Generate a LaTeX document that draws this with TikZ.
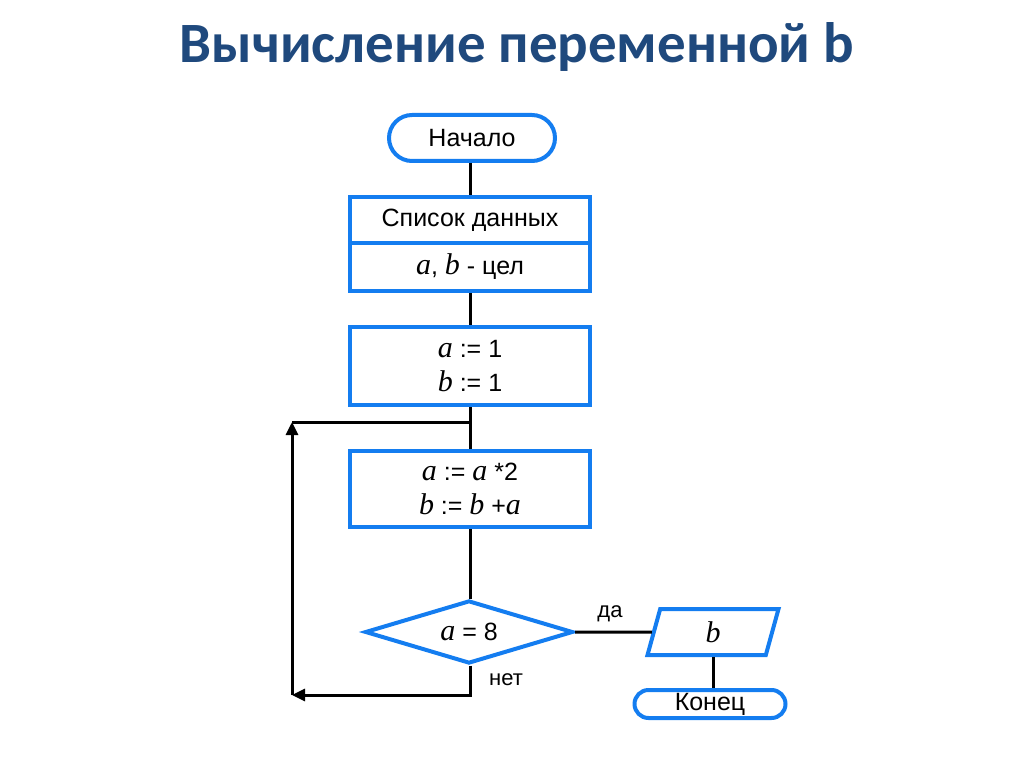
\documentclass[tikz,border=0pt]{standalone}
\usepackage{fontspec}
\setmainfont{Liberation Sans}
\newfontfamily\titlefont{Carlito}
\newfontfamily\serifit{Liberation Serif}
\usetikzlibrary{arrows.meta,shapes.geometric,shapes.misc}
\definecolor{boxblue}{RGB}{20,125,240}
\definecolor{titleblue}{RGB}{31,73,125}
\newcommand{\vr}[1]{{\serifit\itshape\fontsize{30}{34}\selectfont #1}}
\tikzset{
	term/.style={draw=boxblue, line width=4pt, rounded rectangle, inner sep=0pt},
	blockbox/.style={draw=boxblue, line width=4pt, rectangle, minimum width=240pt, inner sep=0pt, align=center},
	cond/.style={draw=boxblue, line width=4pt, diamond, minimum width=208pt, minimum height=63pt, inner sep=0pt},
	iobox/.style={draw=boxblue, line width=4pt, trapezium, trapezium left angle=59, trapezium right angle=121,
		trapezium stretches body, minimum width=131pt, minimum height=46pt, inner sep=0pt},
	flow/.style={draw=black, line width=3pt},
	loop/.style={flow, -{Triangle[length=13pt,width=12pt]}}
}
\begin{document}
\begin{tikzpicture}[x=1pt,y=-1pt, every node/.style={font=\fontsize{25}{34}\selectfont}]
	\useasboundingbox (0,0) rectangle (1024,767);
	\node[font=\titlefont\bfseries\fontsize{57}{60}\selectfont, text=titleblue, anchor=base] (title) at (517,63) {Вычисление переменной b};
	% блоки
	\node[term, minimum width=166pt, minimum height=46pt] (start) at (472,138) {Начало};
	\node[blockbox, minimum height=46pt] (data1) at (470,220) {Список данных};
	\node[blockbox, minimum height=48pt] (data2) at (470,267) {\vr{a}, \vr{b} - цел};
	\node[blockbox, minimum height=78pt] (init) at (470,366) {\vr{a} := 1\\ \vr{b} := 1};
	\node[blockbox, minimum height=76pt] (calc) at (470,489) {\vr{a} := \vr{a} *2\\ \vr{b} := \vr{b} +\vr{a}};
	\node[cond, label=center:{\vr{a} = 8}] (check) at (469,632) {};
	\node[iobox] (print) at (713,632) {\vr{b}};
	\node[term, minimum width=151pt, minimum height=28pt] (stop) at (710,704) {Конец};
	% связи
	\draw[flow] (data1 |- start.south) -- (data1);
	\draw[flow] (data2) -- (init);
	\draw[flow] (init) -- (calc);
	\draw[flow] (calc) -- (calc |- check.north);
	\draw[flow] (check.east) -- (print.west);
	\draw[flow] (print) -- (print |- stop.north);
	\coordinate (loopbot) at (292,695);
	\coordinate (looptop) at (292,422);
	\coordinate (join) at (470,422);
	\draw[loop] (calc |- check.south) |- (loopbot);
	\draw[loop] (loopbot) -- (looptop);
	\draw[flow] (looptop) -- (join);
	\node[font=\fontsize{22}{24}\selectfont] (yes) at (610,614) {да};
	\node[font=\fontsize{22}{24}\selectfont] (no) at (506,680) {нет};
\end{tikzpicture}
\end{document}
